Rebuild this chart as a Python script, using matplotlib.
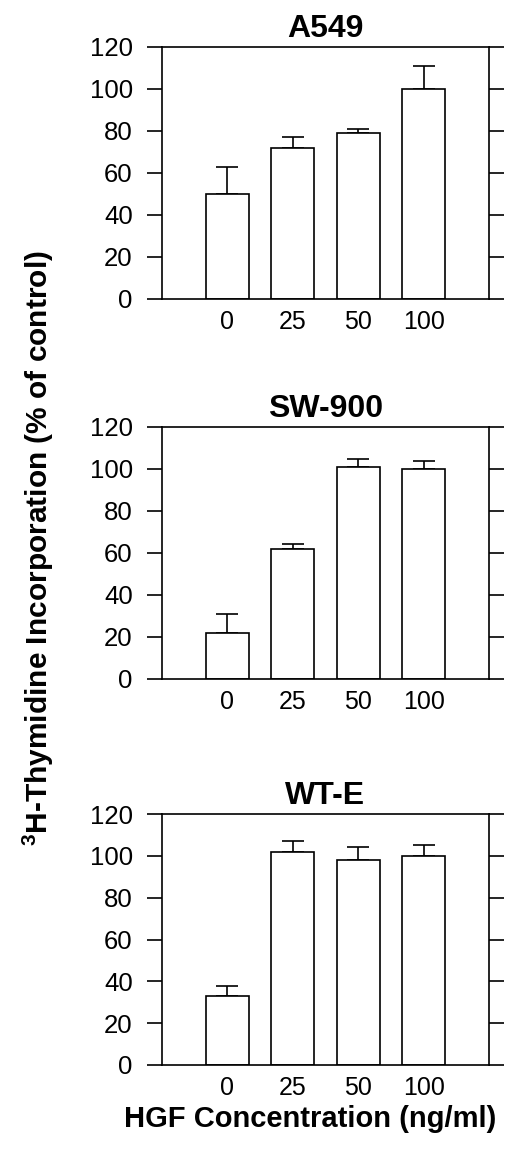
import numpy as np
import matplotlib
matplotlib.use("Agg")
import matplotlib.pyplot as plt

plt.rcParams['font.family'] = ['Liberation Sans', 'DejaVu Sans']
plt.rcParams['mathtext.fontset'] = 'custom'
plt.rcParams['mathtext.bf'] = 'Liberation Sans:bold'
plt.rcParams['mathtext.rm'] = 'Liberation Sans:bold'

doses = ["0", "25", "50", "100"]
cell_lines = ["A549", "SW-900", "WT-E"]

# bar heights and upper error tops (% of control)
a549_mean = [50, 72, 79, 100]
a549_top = [63, 77, 81, 111]
sw900_mean = [22, 62, 101, 100]
sw900_top = [31, 64.5, 105, 104]
wte_mean = [33, 102, 98, 100]
wte_top = [38, 107, 104, 105]

means = [a549_mean, sw900_mean, wte_mean]
tops = [a549_top, sw900_top, wte_top]

fig = plt.figure(figsize=(5.18, 11.66), dpi=100)

left = 162 / 518
width = 327 / 518
panel_px = [(47, 299), (427, 679), (814, 1065)]

x = np.arange(len(doses))
for name, m, t, (ytop, ybot) in zip(cell_lines, means, tops, panel_px):
    ax = fig.add_axes([left, 1 - ybot / 1166, width, (ybot - ytop) / 1166])
    m = np.array(m, dtype=float)
    err = np.array(t, dtype=float) - m
    ax.bar(x, m, width=0.66, color="white", edgecolor="black", linewidth=1.2, zorder=2)
    ax.errorbar(x, m, yerr=[np.zeros_like(err), err], fmt="none", ecolor="black",
                elinewidth=1.2, capsize=8, capthick=1.2, zorder=1)
    ax.set_xlim(-1, 4)
    ax.set_ylim(0, 120)
    ax.set_yticks(range(0, 121, 20))
    ax.set_xticks(x)
    ax.set_xticklabels(doses, fontsize=18)
    ax.tick_params(axis="x", length=0, pad=8)
    ax.tick_params(axis="y", direction="out", length=11, width=1.2, labelsize=18.5,
                   pad=10, right=True)
    for s in ax.spines.values():
        s.set_linewidth(1.2)
    ax.set_title(name, fontsize=23, fontweight="bold", pad=7)

fig.text(38 / 518, 1 - 548 / 1166, r"$^{\mathbf{3}}$H-Thymidine Incorporation (% of control)",
         rotation=90, ha="center", va="center", fontsize=21.5, fontweight="bold")
fig.text(310 / 518, 1 - 1119 / 1166, "HGF Concentration (ng/ml)",
         ha="center", va="center", fontsize=21, fontweight="bold")

fig.savefig("out.png", dpi=100)
